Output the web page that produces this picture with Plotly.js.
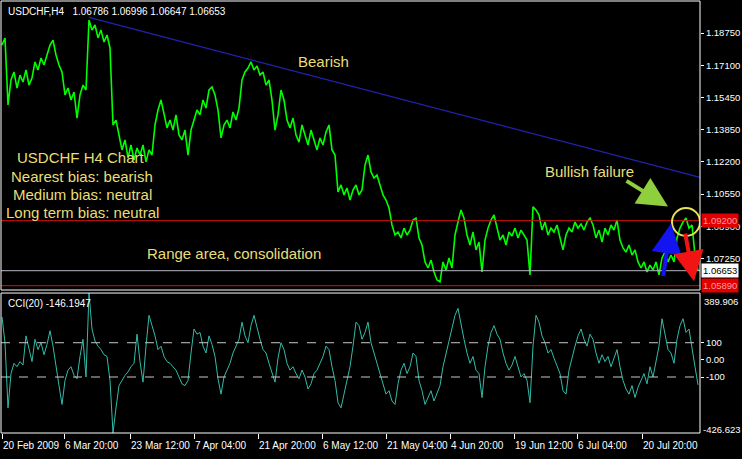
<!DOCTYPE html>
<html>
<head>
<meta charset="utf-8">
<script src="https://cdn.plot.ly/plotly-3.0.1.min.js"></script>
<style>
html,body{margin:0;padding:0;background:#000;}
#chart{width:742px;height:459px;}
</style>
</head>
<body>
<div id="chart"></div>
<script>
// ---- data (USDCHF H4 close, sampled every 3rd bar) ----
const FIRST_BAR = 2;
const BAR_STEP = 3;
const closePrice = [
1.1814,1.1850,1.1509,1.1636,1.1677,1.1595,1.1661,1.1626,1.1687,1.1610,
1.1646,1.1728,1.1687,1.1748,1.1712,1.1763,1.1814,1.1839,1.1763,1.1712,
1.1677,1.1560,1.1595,1.1534,1.1575,1.1442,1.1560,1.1610,1.1585,1.1941,
1.1890,1.1916,1.1850,1.1890,1.1829,1.1865,1.1799,
1.1407,1.1432,1.1356,1.1280,1.1331,1.1239,1.1305,1.1229,1.1290,1.1254,
1.1305,1.1219,1.1280,1.1254,1.1407,1.1483,1.1534,1.1458,1.1392,1.1432,
1.1381,1.1458,1.1356,1.1331,1.1381,1.1254,1.1381,1.1432,1.1483,1.1458,
1.1534,1.1493,1.1585,1.1600,1.1560,1.1483,1.1341,1.1407,1.1432,1.1392,
1.1473,1.1432,1.1493,1.1636,1.1677,1.1697,1.1728,1.1687,1.1707,1.1661,
1.1677,1.1610,1.1636,1.1534,1.1381,1.1458,1.1585,1.1534,1.1432,1.1392,
1.1442,1.1356,1.1320,1.1407,1.1356,1.1305,1.1381,1.1331,1.1280,1.1341,
1.1305,1.1371,1.1407,1.1280,1.1254,1.1066,1.1102,1.1051,1.1086,1.1025,
1.1076,1.1102,1.1051,1.1076,1.1203,1.1254,1.1168,1.1137,1.1152,1.1102,
1.1051,1.1025,1.0984,1.0898,1.0847,1.0862,1.0832,1.0882,1.0847,1.0872,
1.0923,1.0933,1.0832,1.0796,1.0710,1.0679,1.0720,1.0659,1.0618,1.0608,
1.0710,1.0669,1.0730,1.0679,1.0847,1.0913,1.0974,1.0933,1.0847,1.0796,
1.0862,1.0771,1.0811,1.0659,1.0821,1.0882,1.0923,1.0949,1.0882,1.0821,
1.0847,1.0796,1.0862,1.0842,1.0882,1.0832,1.0872,1.0847,1.0821,1.0644,
1.0990,1.0974,1.0949,1.0872,1.0913,1.0847,1.0882,1.0862,1.0898,1.0832,
1.0771,1.0847,1.0882,1.0862,1.0913,1.0882,1.0903,1.0872,1.0913,1.0933,
1.0898,1.0832,1.0872,1.0811,1.0882,1.0847,1.0898,1.0872,1.0923,1.0821,
1.0781,1.0760,1.0796,1.0745,1.0771,1.0710,1.0679,1.0710,1.0659,1.0694,
1.0669,1.0710,1.0644,1.0730,1.0760,1.0710,1.0745,1.0710,1.0832,1.0882,
1.0913,1.0933,1.0882,1.0898,1.0745,1.0665
];
const cci20 = [
250,100,-280,-80,-20,-40,-10,-30,140,60,
-10,120,60,100,30,90,170,80,-50,-150,
-260,-120,-60,-40,-90,-110,20,120,-100,389.906,
180,110,80,60,30,20,-120,-426.623,-280,-150,
-120,-90,-70,-40,-20,150,-10,-130,80,260,
200,140,60,80,20,-10,-20,-40,-60,-100,
-140,-150,-120,40,180,150,160,80,40,140,
90,20,-110,-200,-100,-60,-20,40,80,120,
220,140,100,200,260,180,120,60,40,-20,
-80,-130,10,100,60,-20,-60,-40,-80,-110,
-60,-100,-170,-140,-80,-60,-20,20,80,60,
-40,-120,-250,-280,-200,-120,-40,80,220,200,
120,160,220,100,40,-20,-80,-150,-200,-180,
-240,-260,-140,-60,-20,-80,-40,40,20,-120,
-180,-260,-220,-180,-240,-200,-150,-40,40,120,
200,260,300,200,120,40,-20,20,-60,-80,
-220,-40,80,160,200,150,120,40,-20,-60,
-30,20,-40,-100,-80,-120,-250,80,260,220,
140,100,40,60,10,-40,-80,-180,-200,-60,
20,80,140,180,120,80,150,120,40,-20,
30,-10,20,-40,10,60,-40,-120,-170,-200,
-150,-220,-160,-120,-80,-140,-40,-100,-20,80,
240,160,60,40,-20,120,200,240,160,180,
60,-40,-146.19
];
const trendBars = [89, 700];
const trendPrices = [1.1955, 1.1140];
const resistance = 1.0920;
const support = 1.0589;
const bidPrice = 1.06653;
const priceTickVals = [1.18750,1.17100,1.15450,1.13850,1.12200,1.10550,1.08900,1.07250];
const priceTickText = ['1.18750','1.17100','1.15450','1.13850','1.12200','1.10550','1.08900','1.07250'];
const cciTickVals = [100, 0, -100];
const cciTickText = ['100','0.00','-100'];
const cciMax = 389.906, cciMin = -426.623;
const timeTickBars = [2,64,130,194,258,322,386,450,514,577,642];
const timeTickText = ['20 Feb 2009','6 Mar 20:00','23 Mar 12:00','7 Apr 04:00','21 Apr 20:00','6 May 12:00','21 May 04:00','4 Jun 20:00','19 Jun 12:00','6 Jul 04:00','20 Jul 20:00'];
const headerText = 'USDCHF,H4\u00a0\u00a0\u00a01.06786 1.06996 1.06647 1.06653';
const cciLabel = 'CCI(20) -146.1947';
const notes = [
  {text:'Bearish', bar:323, price:1.1728},
  {text:'USDCHF H4 Chart', bar:81, price:1.1239},
  {text:'Nearest bias: bearish', bar:82, price:1.1147},
  {text:'Medium bias: neutral', bar:82, price:1.1055},
  {text:'Long term bias: neutral', bar:82, price:1.0964},
  {text:'Range area, consolidation', bar:234, price:1.0755},
  {text:'Bullish failure', bar:589, price:1.1168}
];
const arrows = [
  {fromBar:625, fromPrice:1.1127, toBar:668, toPrice:1.0992, color:'#8fce3c'},
  {fromBar:663, fromPrice:1.0630, toBar:671, toPrice:1.0905, color:'#1414f0'},
  {fromBar:685, fromPrice:1.0862, toBar:694, toPrice:1.0612, color:'#f01414'}
];
const circle = {bar0:672, bar1:700, price0:1.0842, price1:1.0984};

// ---- build ----
const bars = closePrice.map((_, i) => FIRST_BAR + BAR_STEP * i);
const cciBars = cci20.map((_, i) => FIRST_BAR + BAR_STEP * i);
const FONT = 'Liberation Sans, Arial, sans-serif';
const YEL = '#e8de78';

const traces = [
  {x: bars, y: closePrice, type:'scatter', mode:'lines', line:{color:'#00ff00', width:1.6}, xaxis:'x', yaxis:'y', hoverinfo:'skip'},
  {x: trendBars, y: trendPrices, type:'scatter', mode:'lines', line:{color:'#2222b4', width:1.2}, xaxis:'x', yaxis:'y', hoverinfo:'skip'},
  {x: cciBars, y: cci20, type:'scatter', mode:'lines', line:{color:'#33bba8', width:1}, xaxis:'x', yaxis:'y2', hoverinfo:'skip'}
];

const shapes = [
  {type:'line', xref:'x domain', x0:0, x1:1, yref:'y', y0:resistance, y1:resistance, line:{color:'#d01010', width:1}},
  {type:'line', xref:'x domain', x0:0, x1:1, yref:'y', y0:support, y1:support, line:{color:'#d01010', width:1}},
  {type:'line', xref:'x domain', x0:0, x1:1, yref:'y', y0:bidPrice, y1:bidPrice, line:{color:'#b8b8c8', width:1}},
  {type:'line', xref:'x domain', x0:0, x1:1, yref:'y2', y0:100, y1:100, line:{color:'#c8c8c8', width:1, dash:'dash'}},
  {type:'line', xref:'x domain', x0:0, x1:1, yref:'y2', y0:-100, y1:-100, line:{color:'#c8c8c8', width:1, dash:'dash'}},
  {type:'circle', xref:'x', yref:'y', x0:circle.bar0, x1:circle.bar1, y0:circle.price0, y1:circle.price1, line:{color:'#e6e05a', width:2}},
  {type:'rect', xref:'x domain', yref:'y domain', x0:0, x1:1, y0:0, y1:1, line:{color:'#ffffff', width:1}},
  {type:'rect', xref:'x domain', yref:'y2 domain', x0:0, x1:1, y0:0, y1:1, line:{color:'#ffffff', width:1}}
];

const annotations = [];
notes.forEach(n => annotations.push({x:n.bar, y:n.price, xref:'x', yref:'y', text:n.text, showarrow:false, xanchor:'center', yanchor:'middle', font:{family:FONT, size:15, color:YEL}}));
arrows.forEach(a => annotations.push({x:a.toBar, y:a.toPrice, ax:a.fromBar, ay:a.fromPrice, xref:'x', yref:'y', axref:'x', ayref:'y', text:'', showarrow:true, arrowhead:2, arrowsize:1.5, arrowwidth:4, arrowcolor:a.color}));
timeTickBars.forEach((b, i) => annotations.push({x:b, xref:'x', y:0, yref:'paper', yanchor:'top', yshift:-5, xanchor:'left', xshift:-1, text:timeTickText[i], showarrow:false, font:{family:FONT, size:10, color:'#ffffff'}}));
annotations.push({x:0, xref:'paper', xanchor:'left', xshift:5, y:1, yref:'paper', yanchor:'top', yshift:-3, text:headerText, showarrow:false, font:{family:FONT, size:10, color:'#ffffff'}});
annotations.push({x:0, xref:'paper', xanchor:'left', xshift:5, y:1, yref:'y2 domain', yanchor:'top', yshift:-3, text:cciLabel, showarrow:false, font:{family:FONT, size:10, color:'#ffffff'}});
annotations.push({x:1, xref:'paper', xanchor:'left', xshift:2, y:1, yref:'y2 domain', yanchor:'top', yshift:-1, text:String(cciMax), showarrow:false, font:{family:FONT, size:9.5, color:'#ffffff'}});
annotations.push({x:1, xref:'paper', xanchor:'left', xshift:1, y:0, yref:'y2 domain', yanchor:'bottom', yshift:-4, text:String(cciMin), showarrow:false, font:{family:FONT, size:9.5, color:'#ffffff'}});
annotations.push({x:1, xref:'paper', xanchor:'left', xshift:1, y:resistance, yref:'y', text:resistance.toFixed(5), showarrow:false, bgcolor:'#e00000', borderpad:1, font:{family:FONT, size:9.5, color:'#ff9a9a'}});
annotations.push({x:1, xref:'paper', xanchor:'left', xshift:1, y:support, yref:'y', text:support.toFixed(5), showarrow:false, bgcolor:'#e00000', borderpad:1, font:{family:FONT, size:9.5, color:'#ff9a9a'}});
annotations.push({x:1, xref:'paper', xanchor:'left', xshift:1, y:bidPrice, yref:'y', text:bidPrice.toFixed(5), showarrow:false, bgcolor:'#ffffff', borderpad:1, font:{family:FONT, size:9.5, color:'#000000'}});

const layout = {
  width:742, height:459,
  margin:{l:1, r:42, t:1, b:26, pad:0},
  paper_bgcolor:'#000000', plot_bgcolor:'#000000',
  showlegend:false,
  xaxis:{range:[1,700], anchor:'y2', showgrid:false, zeroline:false, showline:false,
         tickmode:'array', tickvals:timeTickBars, ticktext:timeTickBars.map(()=>''),
         ticks:'outside', ticklen:5, tickcolor:'#ffffff', showticklabels:false},
  yaxis:{domain:[0.331,1], range:[1.0567,1.2038], side:'right', anchor:'x', showgrid:false, zeroline:false,
         tickmode:'array', tickvals:priceTickVals, ticktext:priceTickText, ticks:'outside', ticklen:3, tickcolor:'#ffffff',
         tickfont:{family:FONT, size:9.5, color:'#ffffff'}},
  yaxis2:{domain:[0,0.324], range:[cciMin,cciMax], side:'right', anchor:'x', showgrid:false, zeroline:false,
         tickmode:'array', tickvals:cciTickVals, ticktext:cciTickText, ticks:'outside', ticklen:3, tickcolor:'#ffffff',
         tickfont:{family:FONT, size:9.5, color:'#ffffff'}},
  shapes:shapes,
  annotations:annotations
};
Plotly.newPlot('chart', traces, layout, {displayModeBar:false, staticPlot:true});
</script>
</body>
</html>
